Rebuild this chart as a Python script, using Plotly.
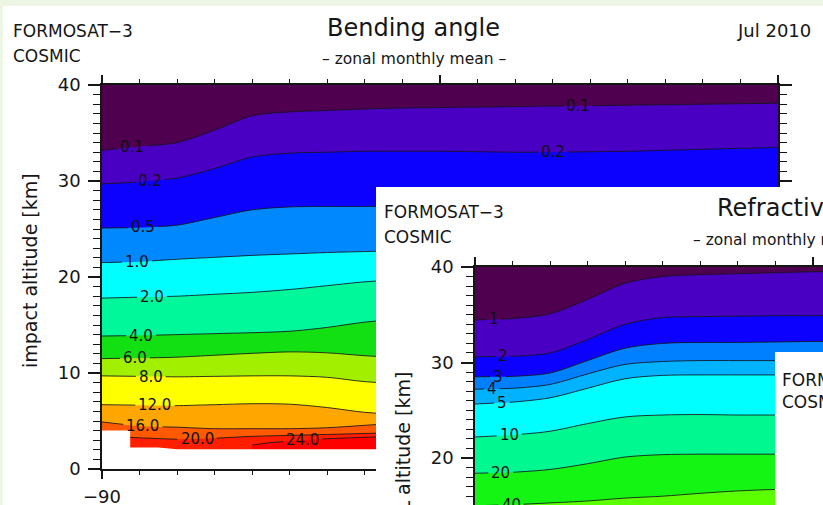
import numpy as np
import plotly.graph_objects as go

W, H = 823, 505
FONT = "DejaVu Sans"
INK = "#161616"
LINE = "rgba(20,20,30,0.85)"
LABEL_SIZE = 15

# ---------------- Bending angle, zonal monthly mean (Jul 2010) ----------------
# altitude [km] of each contour level versus latitude [deg]
LAT = [-90, -80, -70, -60, -50, -40, -30, -20, -10, 0, 10, 20, 30, 40, 50, 60, 70, 80, 90]
BA_TOP_KM = 40.0
BA_0p1 = [33.2, 33.6, 34.0, 35.3, 36.8, 37.2, 37.35, 37.5, 37.6, 37.65, 37.7, 37.75, 37.8, 37.85, 37.9, 37.95, 38.0, 38.05, 38.1]
BA_0p2 = [29.7, 29.9, 30.3, 31.3, 32.5, 32.9, 33.0, 33.1, 33.1, 33.1, 33.05, 33.0, 33.0, 33.05, 33.1, 33.2, 33.3, 33.4, 33.5]
BA_0p5 = [25.1, 25.15, 25.4, 26.2, 27.0, 27.3, 27.35, 27.35, 27.4, 27.4, 27.4, 27.45, 27.5, 27.5, 27.6, 27.6, 27.7, 27.7, 27.8]
BA_1p0 = [21.5, 21.6, 21.85, 22.05, 22.25, 22.4, 22.55, 22.65, 22.75, 22.8, 22.85, 22.9, 22.9, 23.0, 23.0, 23.1, 23.1, 23.2, 23.2]
BA_2p0 = [17.8, 17.9, 18.0, 18.2, 18.4, 18.7, 19.1, 19.5, 19.7, 19.8, 19.8, 19.8, 19.7, 19.6, 19.5, 19.4, 19.3, 19.2, 19.1]
BA_4p0 = [13.85, 13.9, 14.0, 14.1, 14.2, 14.35, 14.75, 15.3, 15.6, 15.7, 15.7, 15.6, 15.5, 15.3, 15.1, 14.9, 14.7, 14.5, 14.3]
BA_6p0 = [11.5, 11.55, 11.65, 11.85, 12.05, 12.2, 12.1, 11.8, 11.6, 11.5, 11.5, 11.5, 11.5, 11.5, 11.5, 11.5, 11.5, 11.5, 11.5]
BA_8p0 = [9.7, 9.65, 9.6, 9.65, 9.7, 9.7, 9.55, 9.1, 8.9, 8.9, 8.9, 9.0, 9.0, 9.1, 9.1, 9.2, 9.2, 9.3, 9.3]
BA_12p0 = [6.7, 6.65, 6.6, 6.7, 6.8, 6.75, 6.4, 5.9, 5.7, 5.6, 5.6, 5.7, 5.8, 5.9, 6.0, 6.1, 6.2, 6.3, 6.4]
BA_16p0 = [4.9, 4.45, 4.35, 4.2, 4.2, 4.2, 4.3, 4.55, 4.8, 4.9, 4.9, 4.9, 4.9, 4.9, 4.9, 4.9, 4.9, 4.9, 4.9]
LAT_20 = [-82.5, -80, -70, -60, -50, -40, -30, -20, -10, 0, 10, 20, 30, 40, 50, 60, 70, 80, 90]
BA_20p0 = [3.3, 3.25, 3.1, 3.2, 3.4, 3.5, 3.6, 3.7, 3.8, 3.85, 3.9, 3.9, 3.9, 3.9, 3.9, 3.9, 3.9, 3.9, 3.9]
LAT_24 = [-50, -45, -40, -30, -20, -10, 0, 10, 20, 30, 40, 50, 60, 70, 80, 90]
BA_24p0 = [2.5, 2.75, 2.9, 3.15, 3.3, 3.4, 3.4, 3.4, 3.4, 3.4, 3.4, 3.4, 3.4, 3.4, 3.4, 3.4]
# lowest altitude reached by the profiles
COV_LAT = [-90, -82.5, -82.5, -75, -70, 90]
COV_ALT = [4.0, 4.0, 2.25, 2.25, 2.05, 2.05]

BA_LEVELS = [0.1, 0.2, 0.5, 1.0, 2.0, 4.0, 6.0, 8.0, 12.0, 16.0, 20.0, 24.0]
BA_LINES = [BA_0p1, BA_0p2, BA_0p5, BA_1p0, BA_2p0, BA_4p0, BA_6p0, BA_8p0, BA_12p0, BA_16p0, BA_20p0, BA_24p0]
BA_LINE_LAT = [LAT] * 10 + [LAT_20, LAT_24]
BA_LABEL_LAT = [[-82, 36.7], [-77.2, 30.1], [-79.1], [-80.7], [-76.7], [-79.6], [-81.2],
                [-77.0], [-75.9], [-79.1], [-64.7], [-36.5]]
BA_TOP_COLOR = "#4f004f"
BA_COLORS = ["#4a00c2", "#0c00ff", "#0088ff", "#00ffff", "#00f79a", "#12e012",
             "#a2f000", "#ffff00", "#ffa600", "#ff5a00", "#ff1e00", "#ff0000"]

# ---------------- Refractivity, zonal monthly mean ----------------
LAT2 = [-90, -80, -70, -60, -50, -40, -30, -20, -10, 0, 10]
RF_TOP_KM = 40.0
RF_1 = [34.45, 34.6, 35.1, 36.6, 38.3, 39.0, 39.2, 39.3, 39.4, 39.5, 39.5]
RF_2 = [30.6, 30.65, 31.0, 32.4, 34.0, 34.7, 34.8, 34.85, 34.9, 34.9, 34.9]
RF_3 = [28.5, 28.55, 28.9, 30.2, 31.5, 32.0, 32.1, 32.1, 32.15, 32.2, 32.2]
RF_4 = [27.2, 27.3, 27.7, 28.8, 29.8, 30.1, 30.2, 30.2, 30.2, 30.2, 30.2]
RF_5 = [25.65, 25.85, 26.3, 27.3, 28.3, 28.65, 28.7, 28.7, 28.7, 28.7, 28.7]
RF_10 = [22.2, 22.4, 22.8, 23.6, 24.3, 24.5, 24.55, 24.5, 24.5, 24.5, 24.5]
RF_20 = [18.4, 18.5, 18.8, 19.4, 20.1, 20.35, 20.4, 20.4, 20.4, 20.4, 20.4]
RF_40 = [15.0, 15.1, 15.3, 15.5, 15.8, 16.0, 16.3, 16.55, 16.7, 16.7, 16.7]
RF_LEVELS = [1, 2, 3, 4, 5, 10, 20, 40]
RF_LINES = [RF_1, RF_2, RF_3, RF_4, RF_5, RF_10, RF_20, RF_40]
RF_LABEL_LAT = [[-84.9], [-82.5], [-83.9], [-85.5], [-82.8], [-80.9], [-83.1], [-80.4]]
RF_TOP_COLOR = "#4f004f"
RF_COLORS = ["#4a00c2", "#0c00ff", "#0080ff", "#00b2ff", "#00ffff", "#00f890", "#14f514", "#5cff00"]

# panel geometry in pixels of the page
P1 = dict(x0=102, x1=778, y0=85, y1=469)      # bending-angle plot area
P2 = dict(x0=475, y0=267)                      # refractivity plot area (runs off the page)
P1_PX_PER_DEG = (P1["x1"] - P1["x0"]) / 180.0
P2_PX_PER_DEG = 3.75
P2_PX_PER_KM = 9.55

fig = go.Figure()


def text_width(s, size):
    return sum(0.318 if ch == "." else 0.636 for ch in s) * size


def band(lat, alt, color, xa, ya, shape="spline"):
    fig.add_trace(go.Scatter(
        x=list(lat), y=list(alt), xaxis=xa, yaxis=ya, mode="lines",
        line=dict(width=0, shape=shape, smoothing=0.9),
        fill="tozeroy", fillcolor=color, hoverinfo="skip", showlegend=False))


def contour_line(lat, alt, label_lats, text, px_per_deg, xa, ya):
    lat = np.asarray(lat, float)
    alt = np.asarray(alt, float)
    half = (text_width(text, LABEL_SIZE) / 2 + 3) / px_per_deg
    gaps = [(c - half, c + half) for c in label_lats]
    pts = [(a, b) for a, b in zip(lat, alt) if not any(lo < a < hi for lo, hi in gaps)]
    for lo, hi in gaps:
        for e in (lo, hi):
            if lat[0] <= e <= lat[-1]:
                pts.append((e, float(np.interp(e, lat, alt))))
    pts.sort()
    xs, ys = [], []
    for i, (a, b) in enumerate(pts):
        if i and any(lo <= (pts[i - 1][0] + a) / 2 <= hi for lo, hi in gaps):
            xs.append(None)
            ys.append(None)
        xs.append(a)
        ys.append(b)
    fig.add_trace(go.Scatter(
        x=xs, y=ys, xaxis=xa, yaxis=ya, mode="lines", connectgaps=False,
        line=dict(color=LINE, width=1, shape="spline", smoothing=0.9),
        hoverinfo="skip", showlegend=False))
    for c in label_lats:
        fig.add_annotation(
            x=c, y=float(np.interp(c, lat, alt)), xref=xa, yref=ya, text=text,
            showarrow=False, font=dict(family=FONT, size=LABEL_SIZE, color="#101010"))


def card(xa, ya):
    # empty trace so the white card subplot is created in stacking order
    fig.add_trace(go.Scatter(x=[None], y=[None], xaxis=xa, yaxis=ya, mode="markers",
                             hoverinfo="skip", showlegend=False))


def note(text, x_px, y_px, size, xanchor="left", yanchor="middle", angle=0):
    fig.add_annotation(
        text=text, x=x_px / W, y=1 - y_px / H, xref="paper", yref="paper",
        xanchor=xanchor, yanchor=yanchor, textangle=angle, showarrow=False,
        font=dict(family=FONT, size=size, color=INK))


# --- card 1 + bending angle panel
card("x", "y")
band(LAT, [BA_TOP_KM] * len(LAT), BA_TOP_COLOR, "x2", "y2")
for lat, alt, col in zip(BA_LINE_LAT, BA_LINES, BA_COLORS):
    band(lat, alt, col, "x2", "y2")
band(COV_LAT, COV_ALT, "white", "x2", "y2", shape="linear")
for lat, alt, lev, lab in zip(BA_LINE_LAT, BA_LINES, BA_LEVELS, BA_LABEL_LAT):
    contour_line(lat, alt, lab, f"{lev:.1f}", P1_PX_PER_DEG, "x2", "y2")

# --- card 2 + refractivity panel
card("x3", "y3")
band(LAT2, [RF_TOP_KM] * len(LAT2), RF_TOP_COLOR, "x4", "y4")
for alt, col in zip(RF_LINES, RF_COLORS):
    band(LAT2, alt, col, "x4", "y4")
for alt, lev, lab in zip(RF_LINES, RF_LEVELS, RF_LABEL_LAT):
    contour_line(LAT2, alt, lab, f"{lev:d}", P2_PX_PER_DEG, "x4", "y4")

# --- card 3 (next panel, mostly off the page)
card("x5", "y5")

# --- texts
note("FORMOSAT\u22123", 11, 31, 17)
note("COSMIC", 11, 56.5, 17)
note("Bending angle", 413, 27.5, 24, xanchor="center")
note("\u2013 zonal monthly mean \u2013", 414, 59, 15.5, xanchor="center")
note("Jul 2010", 774, 30, 18, xanchor="center")
note("impact altitude [km]", 30, 271, 19, xanchor="center", angle=-90)

note("FORMOSAT\u22123", 382, 212, 17)
note("COSMIC", 382, 237, 17)
note("Refractivity", 715, 208.5, 24)
note("\u2013 zonal monthly mean \u2013", 691, 240, 15.5)
note("MSL altitude [km]", 403, 370, 19, xanchor="center", yanchor="top", angle=-90)

note("FORMOSAT\u22123", 780, 380, 17)
note("COSMIC", 780, 402, 17)


def ax_style(**kw):
    base = dict(showline=True, linecolor=INK, linewidth=1.5, ticks="outside",
                tickcolor=INK, tickwidth=1.5, showgrid=False, zeroline=False,
                automargin=False,
                tickfont=dict(family=FONT, size=18, color=INK), fixedrange=True)
    base.update(kw)
    return base


hidden = dict(visible=False, range=[0, 1], fixedrange=True)

fig.update_layout(
    width=W, height=H, autosize=False,
    margin=dict(l=0, r=0, t=0, b=0, pad=0, autoexpand=False),
    paper_bgcolor="#edf5e4", plot_bgcolor="white", showlegend=False,
    xaxis=dict(domain=[3 / W, 1], anchor="y", **hidden),
    yaxis=dict(domain=[0, 1 - 6 / H], anchor="x", **hidden),
    xaxis2=ax_style(domain=[P1["x0"] / W, P1["x1"] / W], anchor="y2", range=[-90, 90],
                    tick0=-90, dtick=90, ticklen=8, mirror="ticks", ticklabelstandoff=3,
                    minor=dict(tick0=-90, dtick=10, ticklen=4, tickwidth=1.3,
                               tickcolor=INK, ticks="outside")),
    yaxis2=ax_style(domain=[1 - P1["y1"] / H, 1 - P1["y0"] / H], anchor="x2", range=[0, 40],
                    tick0=0, dtick=10, ticklen=12, mirror="ticks", ticklabelstandoff=4,
                    minor=dict(dtick=1, ticklen=7, tickwidth=1.3, tickcolor=INK, ticks="outside")),
    xaxis3=dict(domain=[376 / W, 1], anchor="y3", **hidden),
    yaxis3=dict(domain=[0, 1 - 187 / H], anchor="x3", **hidden),
    xaxis4=ax_style(domain=[P2["x0"] / W, 1], anchor="y4", side="top",
                    range=[-90, -90 + (W - P2["x0"]) / P2_PX_PER_DEG],
                    tick0=-90, dtick=90, ticklen=8, showticklabels=False,
                    minor=dict(tick0=-90, dtick=10, ticklen=4, tickwidth=1.3,
                               tickcolor=INK, ticks="outside")),
    yaxis4=ax_style(domain=[0, 1 - P2["y0"] / H], anchor="x4",
                    range=[40 - (H - P2["y0"]) / P2_PX_PER_KM, 40],
                    tick0=0, dtick=10, ticklen=12, ticklabelstandoff=4,
                    minor=dict(dtick=1, ticklen=7, tickwidth=1.3, tickcolor=INK, ticks="outside")),
    xaxis5=dict(domain=[775 / W, 1], anchor="y5", **hidden),
    yaxis5=dict(domain=[0, 1 - 352 / H], anchor="x5", **hidden),
)

fig.write_html("out.html")
